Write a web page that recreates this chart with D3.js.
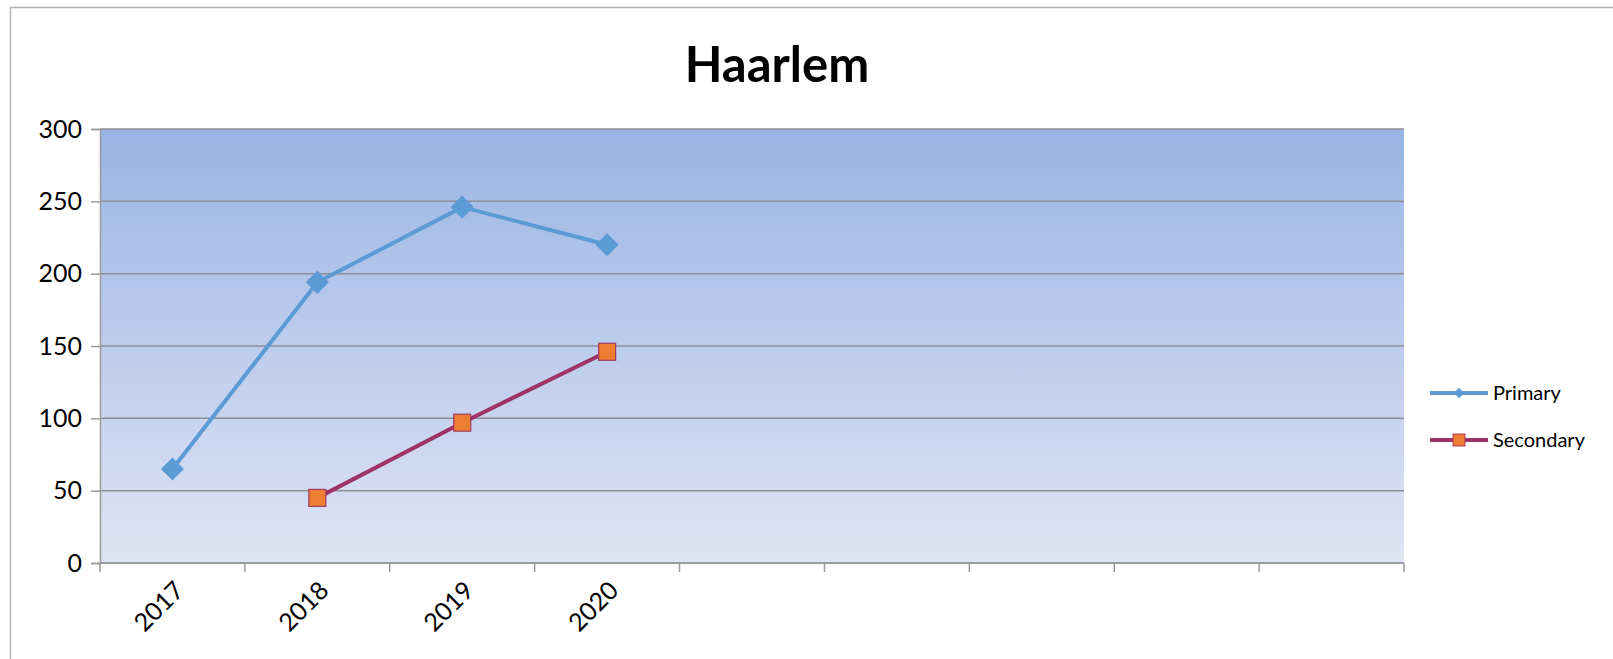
<!DOCTYPE html>
<html>
<head>
<meta charset="utf-8">
<script src="https://cdn.jsdelivr.net/npm/d3@7"></script>
<style>
  body { margin: 0; background: #fff; }
  text { font-family: Lato, "Open Sans", sans-serif; fill: #000; }
</style>
</head>
<body>
<div id="chart"></div>
<script>
var title = "Haarlem";
var categories = ["2017", "2018", "2019", "2020", "", "", "", "", ""];
var primary = [65, 194, 246, 220];
var secondary = [null, 45, 97, 146];
var yTicks = [0, 50, 100, 150, 200, 250, 300];
var seriesNames = ["Primary", "Secondary"];

var width = 1613, height = 659;
var margin = {top: 129, left: 100, right: 209, bottom: 96};
var innerW = width - margin.left - margin.right;
var innerH = height - margin.top - margin.bottom;

var svg = d3.select('#chart').append('svg')
  .attr('width', width)
  .attr('height', height);

// outer frame (only top and left edges show in the picture)
svg.append('path')
  .attr('d', 'M10.5,' + height + 'V7.5H' + width)
  .attr('fill', 'none')
  .attr('stroke', '#b4b4b4')
  .attr('stroke-width', 1.5);

var defs = svg.append('defs');
var grad = defs.append('linearGradient')
  .attr('id', 'plotbg')
  .attr('x1', 0).attr('y1', 0).attr('x2', 0).attr('y2', 1);
grad.append('stop').attr('offset', '0%').attr('stop-color', '#98b4e2');
grad.append('stop').attr('offset', '30%').attr('stop-color', '#afc3ea');
grad.append('stop').attr('offset', '100%').attr('stop-color', '#dfe4f4');

svg.append('text')
  .text(title)
  .attr('x', 777)
  .attr('y', 82)
  .attr('text-anchor', 'middle')
  .style('font-size', '49px')
  .style('font-weight', 'bold');

var chart = svg.append('g')
  .attr('transform', 'translate(' + margin.left + ',' + margin.top + ')');

var x = d3.scaleBand()
  .domain(d3.range(categories.length))
  .range([0, innerW]);

var y = d3.scaleLinear()
  .domain([0, 300])
  .range([innerH, 0]);

chart.append('rect')
  .attr('width', innerW)
  .attr('height', innerH)
  .style('fill', 'url(#plotbg)');

// horizontal gridlines
chart.selectAll('.grid')
  .data(yTicks)
  .enter()
  .append('line')
  .attr('class', 'grid')
  .attr('x1', 0)
  .attr('x2', innerW)
  .attr('y1', function(d){ return y(d); })
  .attr('y2', function(d){ return y(d); })
  .style('stroke', '#8e8e94')
  .style('stroke-width', 1.5);

var yAxis = chart.append('g')
  .call(d3.axisLeft(y).tickValues(yTicks).tickSize(9).tickPadding(9));
yAxis.select('.domain').style('stroke', '#9a9a9a').style('stroke-width', 1.5);
yAxis.selectAll('line').style('stroke', '#9a9a9a').style('stroke-width', 1.5);
yAxis.selectAll('text')
  .style('font-size', '25px')
  .style('font-family', 'Lato, sans-serif')
  .attr('fill', '#000');

// category boundaries for ticks
var boundaries = d3.range(categories.length + 1).map(function(i){ return i * x.bandwidth(); });
var xAxis = chart.append('g')
  .attr('transform', 'translate(0,' + innerH + ')');
xAxis.append('line')
  .attr('x1', 0).attr('x2', innerW)
  .style('stroke', '#9a9a9a').style('stroke-width', 1.5);
xAxis.selectAll('.xtick')
  .data(boundaries)
  .enter()
  .append('line')
  .attr('class', 'xtick')
  .attr('x1', function(d){ return d; })
  .attr('x2', function(d){ return d; })
  .attr('y1', 0)
  .attr('y2', 9)
  .style('stroke', '#9a9a9a').style('stroke-width', 1.5);
xAxis.selectAll('.xlabel')
  .data(categories)
  .enter()
  .append('text')
  .attr('class', 'xlabel')
  .text(function(d){ return d; })
  .attr('text-anchor', 'end')
  .attr('transform', function(d, i){
    return 'translate(' + (x(i) + x.bandwidth() / 2 + 13) + ',29) rotate(-45)';
  })
  .style('font-size', '25px');

var cx = function(d, i){ return x(i) + x.bandwidth() / 2; };

var line = d3.line()
  .defined(function(d){ return d != null; })
  .x(cx)
  .y(function(d){ return y(d); });

chart.append('path')
  .datum(primary)
  .attr('d', line)
  .attr('fill', 'none')
  .style('stroke', '#5b9bd5')
  .style('stroke-width', 4);

chart.append('path')
  .datum(secondary)
  .attr('d', line)
  .attr('fill', 'none')
  .style('stroke', '#9e3367')
  .style('stroke-width', 4);

var diamond = d3.symbol().type(d3.symbolDiamond2).size(340);

chart.selectAll('.pmark')
  .data(primary)
  .enter()
  .filter(function(d){ return d != null; })
  .append('path')
  .attr('class', 'pmark')
  .attr('d', diamond)
  .attr('transform', function(d, i){ return 'translate(' + cx(d, i) + ',' + y(d) + ')'; })
  .style('fill', '#5b9bd5');

chart.selectAll('.smark')
  .data(secondary.map(function(d, i){ return {v: d, i: i}; }).filter(function(d){ return d.v != null; }))
  .enter()
  .append('rect')
  .attr('class', 'smark')
  .attr('x', function(d){ return cx(d.v, d.i) - 8.5; })
  .attr('y', function(d){ return y(d.v) - 8.5; })
  .attr('width', 17)
  .attr('height', 17)
  .style('fill', '#ed7d31')
  .style('stroke', '#a23a62')
  .style('stroke-width', 1.2);

// legend
var legendData = [
  {name: seriesNames[0], color: '#5b9bd5', marker: 'diamond'},
  {name: seriesNames[1], color: '#9e3367', marker: 'square'}
];
var legend = svg.selectAll('.legend')
  .data(legendData)
  .enter()
  .append('g')
  .attr('class', 'legend')
  .attr('transform', function(d, i){ return 'translate(1430,' + (393 + i * 47) + ')'; });

legend.append('line')
  .attr('x1', 0).attr('x2', 58)
  .style('stroke', function(d){ return d.color; })
  .style('stroke-width', 4);

legend.each(function(d){
  var g = d3.select(this);
  if (d.marker === 'diamond') {
    g.append('path')
      .attr('d', d3.symbol().type(d3.symbolDiamond2).size(70))
      .attr('transform', 'translate(29,0)')
      .style('fill', d.color);
  } else {
    g.append('rect')
      .attr('x', 23).attr('y', -6).attr('width', 12).attr('height', 12)
      .style('fill', '#ed7d31')
      .style('stroke', '#a23a62')
      .style('stroke-width', 1);
  }
});

legend.append('text')
  .text(function(d){ return d.name; })
  .attr('x', 63)
  .attr('y', 7)
  .style('font-size', '20px');
</script>
</body>
</html>
